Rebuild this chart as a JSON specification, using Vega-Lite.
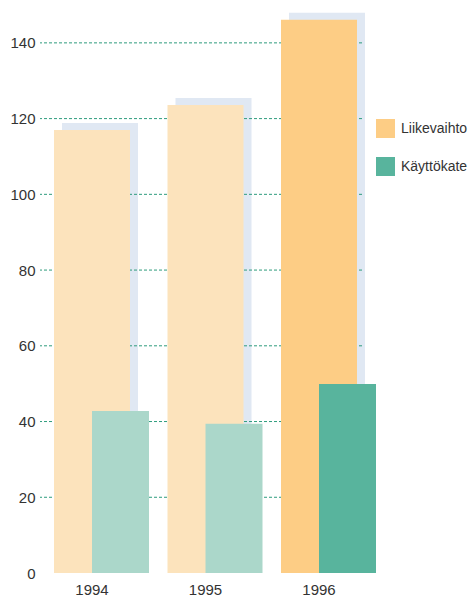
{
  "$schema": "https://vega.github.io/schema/vega-lite/v6.json",
  "autosize": "none",
  "width": 322,
  "height": 568,
  "padding": {"left": 40, "top": 5, "right": 108, "bottom": 25},
  "background": "white",
  "config": {
    "view": {"stroke": null},
    "font": "Liberation Sans, sans-serif"
  },
  "datasets": {
    "bars": [
      {"vuosi": "1994", "sarja": "Liikevaihto", "tyyppi": "Liikevaihto 1994–1995", "arvo": 117.0},
      {"vuosi": "1995", "sarja": "Liikevaihto", "tyyppi": "Liikevaihto 1994–1995", "arvo": 123.6},
      {"vuosi": "1996", "sarja": "Liikevaihto", "tyyppi": "Liikevaihto", "arvo": 146.1},
      {"vuosi": "1994", "sarja": "Käyttökate", "tyyppi": "Käyttökate 1994–1995", "arvo": 42.8},
      {"vuosi": "1995", "sarja": "Käyttökate", "tyyppi": "Käyttökate 1994–1995", "arvo": 39.4},
      {"vuosi": "1996", "sarja": "Käyttökate", "tyyppi": "Käyttökate", "arvo": 49.9}
    ],
    "grid": [
      {"arvo": 20}, {"arvo": 40}, {"arvo": 60}, {"arvo": 80},
      {"arvo": 100}, {"arvo": 120}, {"arvo": 140}
    ]
  },
  "encoding": {
    "x": {
      "field": "vuosi",
      "type": "nominal",
      "scale": {"domain": ["1994", "1995", "1996"], "range": [-4.75, 335.75], "paddingInner": 0, "paddingOuter": 0},
      "axis": {
        "title": null,
        "domain": false,
        "ticks": false,
        "labelAngle": 0,
        "labelFontSize": 15,
        "labelColor": "#333333",
        "labelPadding": 9
      }
    },
    "y": {
      "field": "arvo",
      "type": "quantitative",
      "scale": {"domain": [0, 150], "nice": false},
      "axis": {
        "title": null,
        "domain": false,
        "ticks": false,
        "grid": false,
        "values": [0, 20, 40, 60, 80, 100, 120, 140],
        "labelFontSize": 15,
        "labelColor": "#333333",
        "labelPadding": 5
      }
    }
  },
  "layer": [
    {
      "data": {"name": "bars"},
      "transform": [{"filter": "datum.sarja === 'Liikevaihto'"}],
      "mark": {"type": "bar", "width": 76, "xOffset": 8, "yOffset": -7, "color": "#E0E8F3"}
    },
    {
      "data": {"name": "grid"},
      "mark": {"type": "rule", "color": "#2E9C7D", "strokeDash": [3, 2], "strokeWidth": 1},
      "encoding": {"x": null}
    },
    {
      "data": {"name": "bars"},
      "transform": [{"filter": "datum.sarja === 'Liikevaihto'"}],
      "mark": {"type": "bar", "width": 76},
      "encoding": {
        "color": {
          "field": "tyyppi",
          "type": "nominal",
          "scale": {
            "domain": ["Liikevaihto", "Käyttökate", "Liikevaihto 1994–1995", "Käyttökate 1994–1995"],
            "range": ["#FDCD85", "#58B49D", "#FCE3BC", "#ABD7CA"]
          },
          "legend": {
            "title": null,
            "values": ["Liikevaihto", "Käyttökate"],
            "orient": "none",
            "legendX": 336,
            "legendY": 114,
            "symbolType": "square",
            "symbolSize": 361,
            "symbolStrokeWidth": 0,
            "symbolOpacity": 1,
            "labelFontSize": 14,
            "labelColor": "#333333",
            "labelOffset": 6,
            "rowPadding": 19,
            "padding": 0
          }
        }
      }
    },
    {
      "data": {"name": "bars"},
      "transform": [{"filter": "datum.sarja === 'Käyttökate'"}],
      "mark": {"type": "bar", "width": 57, "xOffset": 28.5},
      "encoding": {
        "color": {"field": "tyyppi", "type": "nominal"}
      }
    }
  ]
}
